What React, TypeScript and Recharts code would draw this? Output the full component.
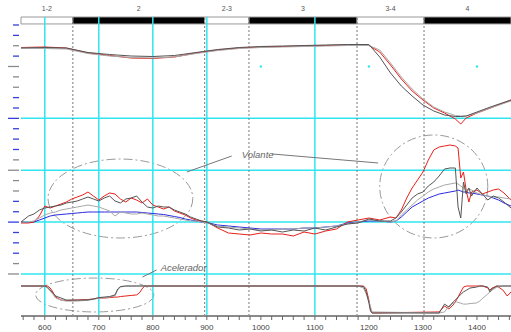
import { ComposedChart, Line, XAxis, YAxis, ReferenceLine, ReferenceArea, ReferenceDot } from "recharts";

// fases del ensayo
const phases = ["1-2", "2", "2-3", "3", "3-4", "4"];
const phaseEdges = [556, 652, 896, 978, 1178, 1302, 1463];

const cyanX = [600, 700, 800, 900, 1100];
const cyanY = [0, 5, 10, 15];
const markerX = [1000, 1200, 1400];

// velocidad
const velX = [556, 600, 640, 680, 720, 760, 800, 840, 880, 920, 960, 1000, 1040, 1080, 1120, 1160, 1200, 1220, 1240, 1260, 1280, 1300, 1320, 1340, 1360, 1370, 1380, 1400, 1430, 1463];
const velNegro = [107.2, 107.4, 107.2, 105.4, 104.6, 104, 103.8, 104.2, 105.4, 106.6, 107.4, 107.8, 108, 108.2, 108.4, 108.6, 108.6, 103.6, 97.2, 92, 88, 84.4, 82, 80.4, 79.8, 79.8, 80, 81.6, 84, 86.4];
const velGris = [107.2, 107, 106.8, 105, 104, 103.4, 103.2, 103.6, 105, 106.2, 107, 107.4, 107.6, 107.8, 108, 108.2, 108.2, 106.4, 101.2, 95.6, 90.8, 86.8, 83.6, 81.6, 80.2, 80, 80, 81.2, 83.6, 86];
const velRojo = [107.4, 107.6, 107.2, 105.2, 104.2, 103.2, 103, 103.6, 105.2, 106.4, 107.2, 107.6, 107.8, 108, 108.2, 108.4, 108.2, 105.6, 100.4, 94.8, 90, 86.4, 83.2, 81.2, 78.8, 76.8, 79.2, 81.2, 83.6, 86.4];

// volante
const volX = [556, 570, 580, 590, 600, 610, 620, 630, 640, 650, 660, 670, 680, 690, 700, 710, 720, 730, 740, 750, 760, 770, 780, 790, 800, 810, 820, 830, 840, 850, 860, 870, 880, 890, 900,
  920, 940, 960, 980, 1000, 1020, 1040, 1060, 1080, 1100, 1120, 1140, 1160, 1180, 1200, 1220, 1240,
  1250, 1260, 1270, 1280, 1290, 1300, 1310, 1320, 1330, 1340, 1350, 1360, 1365, 1370, 1375, 1380, 1385, 1390, 1400, 1410, 1420, 1430, 1440, 1450, 1463];
const volAzul = [0, -0.5, 0, 2, 4, 6, 7, 7.5, 8, 8.5, 9, 9.5, 10, 10, 10, 10, 10, 10, 10, 10, 10, 10, 9.5, 9, 8.5, 8, 7.5, 6.5, 5.5, 4.5, 3, 2, 1, 0, -0.5,
  -3, -4, -5, -6, -7, -7, -7, -7, -6, -6, -5, -4, -1, 0, 1, 1, 0,
  1, 5, 10, 15, 18, 21, 24, 26, 28, 29, 30, 31, 32, 31, 30, 30, 29, 29, 28, 27, 26, 24, 22, 19, 16];
const volNegro = [0, 6, 8, 12, 14, 15, 16, 17, 19, 20, 21, 23, 25, 23, 21, 24, 26, 21, 19, 23, 24, 26, 20, 15, 14, 16, 15, 15, 12, 10, 8, 5, 3, 1, 0,
  -5, -6, -8, -7, -9, -8, -10, -8, -9, -6, -8, -5, -2, -1, 3, 1, 1,
  4, 10, 17, 24, 28, 30, 36, 40, 46, 53, 54, 54, 15, 4, 40, 28, 34, 26, 34, 28, 22, 26, 24, 20, 14];
const volRojo = [-1, -1, 0, 6, 16, 14, 16, 18, 20, 23, 25, 27, 30, 26, 22, 26, 29, 28, 23, 20, 24, 22, 19, 23, 17, 15, 13, 15, 11, 9, 7, 4, 2, 1, 0,
  -6, -11, -12, -13, -11, -12, -12, -14, -10, -12, -9, -7, 0, 2, 4, 2, 5,
  4, 12, 24, 34, 42, 50, 62, 72, 75, 76, 77, 76, 74, 44, 50, 32, 20, 30, 32, 28, 30, 32, 33, 29, 22];
const volGris = [0, 0, 1, 4, 7, 9, 10, 12, 13, 14, 15, 16, 17, 16, 15, 13, 11, 6, 10, 9, 8, 8, 9, 8, 7, 6, 6, 5, 4, 3, 2, 1, 1, 0, -1,
  -4, -5, -6, -7, -8, -8, -7, -7, -6, -6, -5, -4, -2, 0, 2, 1, 0,
  1, 7, 12, 17, 22, 26, 30, 33, 35, 37, 38, 39, 38, 36, 34, 32, 33, 32, 29, 27, 26, 25, 25, 24, 23];

// acelerador (%)
const accX = [556, 600, 605, 610, 615, 620, 630, 640, 660, 680, 690, 700, 710, 720, 730, 735, 740, 750, 760, 770, 775, 780, 785, 790,
  1180, 1190, 1195, 1200, 1203, 1206, 1330, 1340, 1348, 1356, 1362, 1369, 1375, 1381, 1387, 1399, 1405, 1411, 1420, 1424, 1428, 1437, 1448, 1456, 1463];
const accNegro = [100, 100, 96, 85, 74, 63, 55.5, 48, 48, 48, 52, 57, 59, 61, 67, 89, 98, 100, 100, 100, 100, 100, 100, 100,
  100, 98, 78, 37, 7, 0, 0, 33, 22, 41, 52, 67, 78, 85, 92.5, 96, 100, 100, 96, 78, 89, 100, 100, 100, 100];
const accGris = [100, 100, 92.5, 81, 70, 55.5, 48, 44, 44, 48, 50, 55.5, 55.5, 59, 63, 85, 96, 100, 100, 100, 100, 100, 100, 100,
  100, 92.5, 70, 44, 22, 4, 0, 4, 26, 37, 41, 37, 33, 33, 35, 37, 44, 55.5, 70, 78, 85, 96, 100, 100, 100];
const accRojo = [100, 100, 100, 92.5, 78, 59, 48, 46, 48, 50, 52, 55.5, 55.5, 57, 59, 59, 61, 63, 65, 67, 74, 89, 100, 100,
  100, 100, 89, 48, 11, 0, 4, 26, 15, 30, 48, 74, 96, 100, 100, 100, 100, 100, 92.5, 85, 92.5, 100, 85, 63, 78];

const xTicks: number[] = [];
for (let v = 560; v <= 1460; v += 20) xTicks.push(v);
const yTicks = Array.from({ length: 25 }, (_, i) => i);
const A = "#3340dd";
const G = "#8a8a8a";
const tickColors = [G, G, A, A, A, A, A, A, G, G, G, G, A, A, A, A, A, A, G, G, G, A, G, A, A];

const rows = (xs: number[], s: Record<string, number[]>) =>
  xs.map((x, i) => {
    const r: Record<string, number> = { x };
    for (const k in s) r[k] = s[k][i];
    return r;
  });

const velData = rows(velX, { negro: velNegro, gris: velGris, rojo: velRojo });
const volData = rows(volX, { negro: volNegro, gris: volGris, rojo: volRojo, azul: volAzul });
const accData = rows(accX, { negro: accNegro, gris: accGris, rojo: accRojo });

const CYAN = "#2fe6ee";
const FONT = "'Liberation Sans', Arial, sans-serif";

const renderYTick = (props: any) => {
  const { y, payload } = props;
  const k = Number(payload.value);
  const long = k % 5 === 0;
  const right = 20;
  return (
    <line key={"yt" + k} x1={right - (long ? 12 : 7)} x2={right - 1} y1={y} y2={y}
      stroke={tickColors[k] || G} strokeWidth={1.3} />
  );
};

function XTick(props: any) {
  const { x, y, payload } = props;
  const v = payload.value;
  return (
    <g>
      <line x1={x} x2={x} y1={y} y2={y + 4} stroke="#666" />
      {v % 100 === 0 && (
        <text x={x} y={y + 14} textAnchor="middle" fontSize={8} fill="#444" fontFamily={FONT}>{v}</text>
      )}
    </g>
  );
}

const Elipse = (p: any) => (
  <ellipse cx={p.x + p.width / 2} cy={p.y + p.height / 2} rx={p.width / 2} ry={p.height / 2}
    fill="none" stroke="#9a9a9a" strokeWidth={1} strokeDasharray="9 3 2 3" />
);

const nota = (texto: string) => (p: any) => (
  <text x={p.cx} y={p.cy} textAnchor="middle" dominantBaseline="central" fontSize={9.5}
    fontStyle="italic" fill="#666" fontFamily={FONT}>{texto}</text>
);

const series = [
  { key: "rojo", color: "#e8201a" },
  { key: "gris", color: "#a8a8a8" },
  { key: "negro", color: "#555" },
];

export default function App() {
  return (
    <div style={{ position: "absolute", left: 0, top: 0, background: "#fff" }}>
      <ComposedChart width={511} height={332} margin={{ top: 17, right: 0, bottom: 0, left: 0 }}>
        <XAxis dataKey="x" type="number" domain={[556, 1463]} allowDataOverflow ticks={xTicks} interval={0}
          height={16} tickSize={0} tickMargin={0} tick={<XTick />} axisLine={{ stroke: G, strokeWidth: 2 }} tickLine={false} />
        <YAxis yAxisId="grid" type="number" domain={[-4.05, 24.77]} allowDataOverflow ticks={yTicks} interval={0} width={21}
          tickSize={2} tickMargin={1} tick={renderYTick} axisLine={{ stroke: G, strokeWidth: 2 }} tickLine={false} />
        <YAxis yAxisId="vel" hide domain={[0, 119.6]} allowDataOverflow />
        <YAxis yAxisId="vol" hide domain={[-94, 205]} allowDataOverflow />
        <YAxis yAxisId="acc" hide domain={[-11.1, 1096.3]} allowDataOverflow />

        {cyanY.map((y) => (
          <ReferenceLine key={"h" + y} yAxisId="grid" y={y} stroke={CYAN} strokeWidth={1.5} />
        ))}
        {cyanX.map((x) => (
          <ReferenceLine key={"v" + x} yAxisId="grid" x={x} stroke={CYAN} strokeWidth={1.5} />
        ))}
        {phaseEdges.slice(1, -1).map((x) => (
          <ReferenceLine key={"p" + x} yAxisId="grid" x={x} stroke="#777" strokeDasharray="2 2" />
        ))}
        {markerX.map((x) => (
          <ReferenceDot key={"m" + x} yAxisId="grid" x={x} y={20} r={1.2} fill={CYAN} stroke="none" />
        ))}

        <ReferenceArea yAxisId="grid" x1={606} x2={874} y1={3.47} y2={11.08} shape={Elipse} />
        <ReferenceArea yAxisId="grid" x1={1220} x2={1420} y1={3.47} y2={13.4} shape={Elipse} />
        <ReferenceArea yAxisId="grid" x1={583} x2={802} y1={-3.66} y2={-0.39} shape={Elipse} />

        <ReferenceLine yAxisId="grid" segment={[{ x: 863, y: 9.83 }, { x: 946, y: 11.37 }]} stroke="#777" />
        <ReferenceLine yAxisId="grid" segment={[{ x: 1020, y: 11.57 }, { x: 1217, y: 10.7 }]} stroke="#777" />
        <ReferenceLine yAxisId="grid" segment={[{ x: 807, y: 0.39 }, { x: 781, y: -0.29 }]} stroke="#777" />
        <ReferenceDot yAxisId="grid" x={994} y={11.47} r={1} shape={nota("Volante")} />
        <ReferenceDot yAxisId="grid" x={857} y={0.58} r={1} shape={nota("Acelerador")} />

        <Line data={volData} yAxisId="vol" dataKey="azul" stroke="#2a2ae0" strokeWidth={1} dot={false} isAnimationActive={false} type="linear" />
        {series.map((s) => (
          <Line key={"vel" + s.key} data={velData} yAxisId="vel" dataKey={s.key} stroke={s.color} strokeWidth={1} dot={false} isAnimationActive={false} type="linear" />
        ))}
        {series.map((s) => (
          <Line key={"vol" + s.key} data={volData} yAxisId="vol" dataKey={s.key} stroke={s.color} strokeWidth={1} dot={false} isAnimationActive={false} type="linear" />
        ))}
        {series.map((s) => (
          <Line key={"acc" + s.key} data={accData} yAxisId="acc" dataKey={s.key} stroke={s.color} strokeWidth={1} dot={false} isAnimationActive={false} type="linear" />
        ))}

        {phases.map((name, i) => (
          <ReferenceArea key={name} yAxisId="grid" x1={phaseEdges[i]} x2={phaseEdges[i + 1]} y1={24.1} y2={24.77}
            fill={i % 2 === 0 ? "#fff" : "#000"} fillOpacity={1} stroke="#999" strokeWidth={1}
            label={{ value: name, position: "top", offset: 6, fontSize: 7, fill: "#555", fontFamily: FONT }} />
        ))}
      </ComposedChart>
    </div>
  );
}
